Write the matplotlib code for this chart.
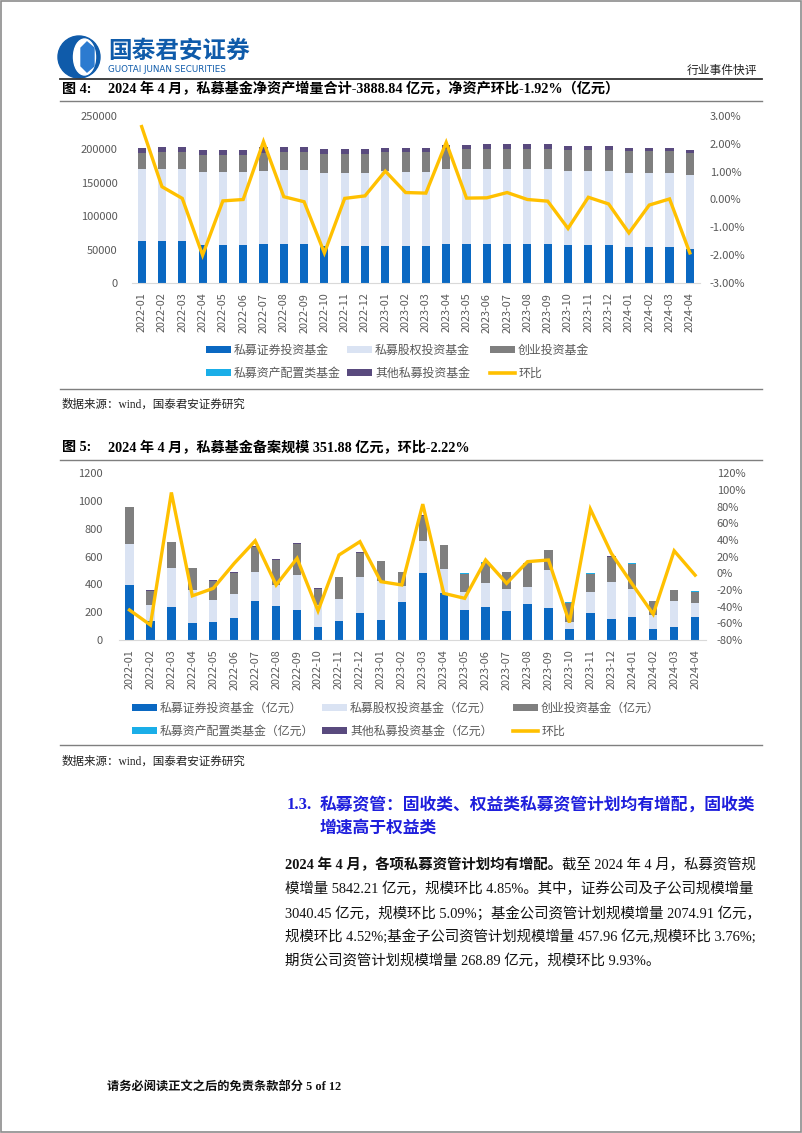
import numpy as np
import matplotlib
matplotlib.use("Agg")
import matplotlib.pyplot as plt
from matplotlib.patches import Patch, Circle, Ellipse, Polygon, Rectangle
from matplotlib.lines import Line2D

plt.rcParams['font.family'] = ['Noto Sans CJK SC', 'DejaVu Sans']
SERIF = ['Liberation Serif', 'Noto Sans CJK SC']

# ---------------- data ----------------
months = ['2022-01', '2022-02', '2022-03', '2022-04', '2022-05', '2022-06', '2022-07',
          '2022-08', '2022-09', '2022-10', '2022-11', '2022-12', '2023-01', '2023-02',
          '2023-03', '2023-04', '2023-05', '2023-06', '2023-07', '2023-08', '2023-09',
          '2023-10', '2023-11', '2023-12', '2024-01', '2024-02', '2024-03', '2024-04']

# Chart 1: net assets (亿元)
nav_sec = [62900, 62900, 62900, 56900, 56900, 56900, 58900, 58900, 58900, 55500, 54900, 54900,
           55400, 55400, 55400, 58400, 58400, 58400, 57900, 57900, 57900, 56400, 56400, 56400,
           53900, 53900, 53900, 51400]
nav_pe = [107300, 107300, 107300, 108800, 108800, 108800, 109300, 109800, 109800, 109300, 109800, 109800,
          111800, 111300, 111300, 111800, 111800, 111800, 112300, 112300, 112300, 111300, 111300, 111300,
          111300, 111300, 111300, 109800]
nav_vc = [24000, 25400, 25400, 25900, 25900, 25900, 26900, 27900, 27900, 27900, 27900, 27900,
          28400, 29400, 29900, 30900, 30400, 30900, 30900, 30900, 30900, 31900, 31900, 31400,
          32900, 32400, 32400, 32900]
nav_alloc = [200] * 28
nav_other = [8000, 7500, 7500, 7500, 7500, 7500, 8000, 7000, 7000, 7500, 7500, 7500,
             6500, 6500, 6000, 6000, 6500, 6500, 6500, 6500, 6500, 5500, 5500, 6000,
             4500, 4500, 4500, 4500]
nav_mom = [2.62, 0.46, 0.04, -2.00, -0.05, 0.00, 2.08, 0.10, -0.08, -1.92, 0.04, 0.13,
           1.02, 0.25, 0.23, 2.05, 0.05, 0.06, 0.25, 0.00, -0.06, -1.04, 0.08, -0.16,
           -1.20, -0.20, 0.02, -1.92]

# Chart 2: newly filed scale (亿元)
reg_sec = [398, 134, 238, 122, 130, 161, 278, 247, 218, 94, 137, 194, 146, 274,
           485, 341, 218, 240, 206, 257, 233, 79, 192, 149, 166, 79, 96, 168]
reg_pe = [291, 118, 280, 238, 160, 173, 209, 149, 252, 156, 156, 257, 281, 117,
          225, 170, 128, 173, 160, 123, 271, 53, 154, 269, 204, 101, 185, 96]
reg_vc = [266, 103, 185, 156, 137, 148, 185, 182, 221, 117, 158, 175, 139, 96,
          185, 171, 132, 144, 121, 172, 142, 137, 132, 182, 180, 98, 77, 85]
reg_alloc = [1] * 28
reg_other = [3] * 28
reg_mom = [-44, -62, 97, -27, -18, 12, 39, -14, 18, -45, 22, 38, -10, -14,
           83, -24, -30, 16, -12, 14, 16, -59, 77, 24, -13, -49, 27, -2.22]

labels1 = ['私募证券投资基金', '私募股权投资基金', '创业投资基金',
           '私募资产配置类基金', '其他私募投资基金', '环比']
labels2 = ['私募证券投资基金（亿元）', '私募股权投资基金（亿元）', '创业投资基金（亿元）',
           '私募资产配置类基金（亿元）', '其他私募投资基金（亿元）', '环比']

# ---------------- style ----------------
C_SEC = '#0A68C2'
C_PE = '#DAE3F3'
C_VC = '#7F7F7F'
C_ALLOC = '#1AAEE8'
C_OTHER = '#594A7E'
C_LINE = '#FFC000'
C_TICK = '#595959'

W, H = 802, 1133
fig = plt.figure(figsize=(W / 100, H / 100), dpi=100)


def fx(x):
    return x / W


def fy(y):
    return 1 - y / H


def pax(x0, y0, x1, y1):
    return fig.add_axes([fx(x0), fy(y1), (x1 - x0) / W, (y1 - y0) / H])


# overlay axes in pixel coordinates for page decorations
ov = fig.add_axes([0, 0, 1, 1])
ov.set_xlim(0, W)
ov.set_ylim(H, 0)
ov.axis('off')

# page frame
ov.add_patch(Rectangle((0.8, 0.8), W - 1.6, H - 1.6, fill=False, ec='#8c8c8c', lw=1.2))

# logo
ov.add_patch(Circle((79, 57), 21, color='#0F5BAA'))
ov.add_patch(Ellipse((84.5, 57), 22, 36, color='white'))
ov.add_patch(Polygon([(87, 42), (94, 48), (94, 66), (87, 72), (81, 66), (81, 48)], color='#2C7BD0'))
ov.text(108, 51, '国泰君安证券', fontsize=17, fontweight='bold', color='#0F5BAA',
        va='center', ha='left')
ov.text(108, 69, 'GUOTAI JUNAN SECURITIES', fontsize=6.3, color='#0F5BAA',
        va='center', ha='left', family=['DejaVu Sans'])
ov.text(757, 70, '行业事件快评', fontsize=8.5, color='#222222', va='center', ha='right')
ov.plot([60, 762], [79, 79], color='#333333', lw=1.3)

# Figure 4 title
ov.text(62, 89, '图 4:', fontsize=10.2, fontweight='bold', family=SERIF, va='center', ha='left')
ov.text(108, 89, '2024 年 4 月，私募基金净资产增量合计-3888.84 亿元，净资产环比-1.92%（亿元）',
        fontsize=10.2, fontweight='bold', family=SERIF, va='center', ha='left')
ov.plot([60, 762], [100.5, 100.5], color='#7f7f7f', lw=1.0)
ov.plot([60, 762], [389, 389], color='#7f7f7f', lw=1.0)
ov.text(62, 405, '数据来源：wind，国泰君安证券研究', fontsize=8.3, family=SERIF,
        va='center', ha='left', color='#222222')

# Figure 5 title
ov.text(62, 448, '图 5:', fontsize=10.2, fontweight='bold', family=SERIF, va='center', ha='left')
ov.text(108, 448, '2024 年 4 月，私募基金备案规模 351.88 亿元，环比-2.22%',
        fontsize=10.2, fontweight='bold', family=SERIF, va='center', ha='left')
ov.plot([60, 762], [460, 460], color='#7f7f7f', lw=1.0)
ov.plot([60, 762], [745, 745], color='#7f7f7f', lw=1.0)
ov.text(62, 762, '数据来源：wind，国泰君安证券研究', fontsize=8.3, family=SERIF,
        va='center', ha='left', color='#222222')

# Section heading
C_HEAD = '#1E1EDC'
ov.text(287, 805, '1.3.', fontsize=12, fontweight='bold', family=SERIF, color=C_HEAD,
        va='center', ha='left')
ov.text(320, 805, '私募资管：固收类、权益类私募资管计划均有增配，固收类', fontsize=12.1,
        fontweight='bold', family=SERIF, color=C_HEAD, va='center', ha='left')
ov.text(320, 829, '增速高于权益类', fontsize=12.1, fontweight='bold', family=SERIF,
        color=C_HEAD, va='center', ha='left')

# body paragraph
renderer = fig.canvas.get_renderer()
t_b = ov.text(285, 865, '2024 年 4 月，各项私募资管计划均有增配。', fontsize=10.4,
              fontweight='bold', family=SERIF, va='center', ha='left', color='#111111')
bb = t_b.get_window_extent(renderer=renderer)
x_end = bb.x1 / fig.dpi * 100  # pixels (dpi=100)
ov.text(x_end, 865, '截至 2024 年 4 月，私募资管规', fontsize=10.4, family=SERIF,
        va='center', ha='left', color='#111111')
body = ['模增量 5842.21 亿元，规模环比 4.85%。其中，证券公司及子公司规模增量',
        '3040.45 亿元，规模环比 5.09%；基金公司资管计划规模增量 2074.91 亿元，',
        '规模环比 4.52%;基金子公司资管计划规模增量 457.96 亿元,规模环比 3.76%;',
        '期货公司资管计划规模增量 268.89 亿元，规模环比 9.93%。']
for i, line in enumerate(body):
    ov.text(285, 889 + 24 * i, line, fontsize=10.4, family=SERIF, va='center',
            ha='left', color='#111111')

# footer
ov.text(107, 1087, '请务必阅读正文之后的免责条款部分 5 of 12', fontsize=8.8, fontweight='bold',
        family=SERIF, va='center', ha='left', color='#111111')


def style_axes(ax, axr, lpad, rpad, xpad):
    for s in ['top', 'left', 'right']:
        ax.spines[s].set_visible(False)
    ax.spines['bottom'].set_color('#D9D9D9')
    for s in axr.spines.values():
        s.set_visible(False)
    ax.tick_params(axis='y', length=0, labelsize=8, labelcolor=C_TICK, pad=lpad)
    ax.tick_params(axis='x', length=0, labelsize=7.8, labelcolor=C_TICK, pad=xpad,
                   labelrotation=90)
    axr.tick_params(axis='y', length=0, labelsize=8, labelcolor=C_TICK, pad=rpad)
    ax.set_facecolor('none')


def stacked(ax, series, colors, width):
    x = np.arange(len(months))
    bottom = np.zeros(len(months))
    for vals, col in zip(series, colors):
        ax.bar(x, vals, width=width, bottom=bottom, color=col, linewidth=0)
        bottom += np.array(vals, dtype=float)
    ax.set_xticks(x)
    ax.set_xticklabels(months)
    ax.set_xlim(-0.5, len(months) - 0.5)


colors = [C_SEC, C_PE, C_VC, C_ALLOC, C_OTHER]

# ---------------- chart 1 ----------------
ax1 = pax(131.5, 116, 700, 283)
stacked(ax1, [nav_sec, nav_pe, nav_vc, nav_alloc, nav_other], colors, 0.4)
ax1.set_ylim(0, 250000)
ax1.set_yticks(np.arange(0, 250001, 50000))
ax1.set_yticklabels([f'{v:d}' for v in range(0, 250001, 50000)])
ax1r = ax1.twinx()
ax1r.plot(np.arange(len(months)), nav_mom, color=C_LINE, lw=2.4, solid_joinstyle='miter')
ax1r.set_ylim(-3, 3)
ax1r.set_yticks(np.arange(-3, 3.01, 1))
ax1r.set_yticklabels([f'{v:.2f}%' for v in np.arange(-3, 3.01, 1)])
style_axes(ax1, ax1r, 10, 7, 7)

# ---------------- chart 2 ----------------
ax2 = pax(119, 473.3, 705.6, 640)
stacked(ax2, [reg_sec, reg_pe, reg_vc, reg_alloc, reg_other], colors, 0.4)
ax2.set_ylim(0, 1200)
ax2.set_yticks(np.arange(0, 1201, 200))
ax2r = ax2.twinx()
ax2r.plot(np.arange(len(months)), reg_mom, color=C_LINE, lw=2.4, solid_joinstyle='miter')
ax2r.set_ylim(-80, 120)
ax2r.set_yticks(np.arange(-80, 121, 20))
ax2r.set_yticklabels([f'{v:d}%' for v in range(-80, 121, 20)])
style_axes(ax2, ax2r, 11.5, 8, 7)


# ---------------- legends ----------------
def handles_for(labels):
    hs = [Patch(facecolor=c, edgecolor='none') for c in colors]
    hs.append(Line2D([0], [0], color=C_LINE, lw=2.6))
    return list(zip(hs, labels))


def column_legend(items, x, y):
    leg = fig.legend([h for h, _ in items], [l for _, l in items], loc='upper left',
                     bbox_to_anchor=(fx(x), fy(y)), frameon=False, fontsize=8.6,
                     handlelength=2.1, handleheight=0.5, handletextpad=0.25,
                     borderpad=0, borderaxespad=0, labelspacing=0.9, labelcolor=C_TICK)
    for t in leg.get_texts():
        t.set_family(SERIF)
    return leg


h1 = handles_for(labels1)
column_legend([h1[0], h1[3]], 206, 345)
column_legend([h1[1], h1[4]], 347, 345)
column_legend([h1[2], h1[5]], 490, 345)

h2 = handles_for(labels2)
column_legend([h2[0], h2[3]], 132, 703)
column_legend([h2[1], h2[4]], 322, 703)
column_legend([h2[2], h2[5]], 513, 703)

fig.savefig('out.png', dpi=100)
